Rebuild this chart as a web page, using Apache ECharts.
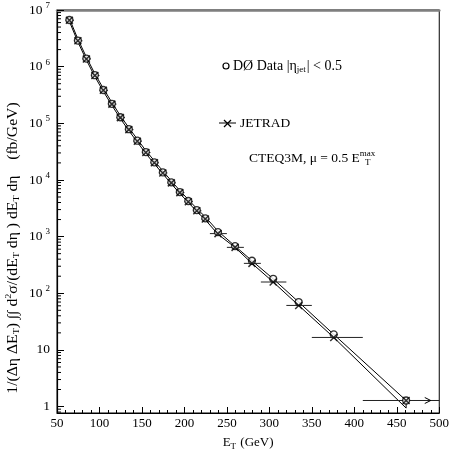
<!DOCTYPE html>
<html><head><meta charset="utf-8">
<script src="https://cdn.jsdelivr.net/npm/echarts@6/dist/echarts.min.js"></script>
<style>html,body{margin:0;padding:0;background:#fff}#c{width:452px;height:456px}</style>
</head><body><div id="c"></div>
<script>
// ET bin centres (GeV) and bin edges
const energies = [64.6, 74.6, 84.6, 94.6, 104.6, 114.6, 124.6, 134.6, 144.6, 154.6, 164.6, 174.6, 184.6, 194.6, 204.6, 214.6, 224.6, 239.5, 259.6, 279.5, 304.5, 334.5, 375.8, 461.0];
const binLow  = [60, 70, 80, 90, 100, 110, 120, 130, 140, 150, 160, 170, 180, 190, 200, 210, 220, 230, 250, 270, 290, 320, 350, 410];
const binHigh = [70, 80, 90, 100, 110, 120, 130, 140, 150, 160, 170, 180, 190, 200, 210, 220, 230, 250, 270, 290, 320, 350, 410, 500];
const arrowTipE = 490;
// D0 data (fb/GeV)
const dataY = [6.66e6, 2.89e6, 1.39e6, 7.06e5, 3.87e5, 2.21e5, 1.28e5, 7.87e4, 4.93e4, 3.11e4, 2.05e4, 1.36e4, 9.08e3, 6.12e3, 4.25e3, 2.94e3, 2.10e3, 1.20e3, 681, 375, 180, 70, 18.8, 1.28];
// JETRAD prediction
const jetradY = [6.60e6, 2.86e6, 1.37e6, 6.98e5, 3.82e5, 2.18e5, 1.26e5, 7.74e4, 4.84e4, 3.05e4, 2.01e4, 1.33e4, 8.88e3, 5.98e3, 4.14e3, 2.86e3, 2.04e3, 1.13e3, 646, 337, 158, 61, 16.6, 1.28];
// band edges
const bandUpper = [7.05e6, 3.06e6, 1.47e6, 7.48e5, 4.10e5, 2.34e5, 1.36e5, 8.34e4, 5.23e4, 3.30e4, 2.17e4, 1.44e4, 9.62e3, 6.49e3, 4.50e3, 3.12e3, 2.23e3, 1.25e3, 681, 375, 180, 70, 18.8, 1.28];
const bandLower = [6.28e6, 2.73e6, 1.31e6, 6.66e5, 3.65e5, 2.08e5, 1.21e5, 7.42e4, 4.65e4, 2.93e4, 1.93e4, 1.28e4, 8.57e3, 5.77e3, 4.01e3, 2.77e3, 1.98e3, 1.10e3, 646, 337, 158, 61, 16.6, 0.94];
// axes
const xMin = 50, xMax = 500, xStep = 50;
const yMin = 0.77, yMax = 1e7;
const yDecades = [1, 10, 100, 1000, 1e4, 1e5, 1e6, 1e7];

const FONT = 'Liberation Serif';
const minorY = [];
[0.1].concat(yDecades).forEach(d => { for (let m = 2; m <= 9; m++) { const v = m * d; if (v > yMin && v < yMax) minorY.push([xMin, v]); } });

const chart = echarts.init(document.getElementById('c'), null, {renderer: 'canvas'});
const last = energies.length - 1;
const crossPath = 'path://M0,0 L10,10 M10,0 L0,10';

const option = {
  animation: false,
  backgroundColor: '#fff',
  grid: {left: 57, right: 11, top: 10, bottom: 43, show: true, borderColor: '#000', borderWidth: 1, backgroundColor: 'transparent'},
  xAxis: [{
    type: 'value', min: xMin, max: xMax, interval: xStep,
    axisLine: {lineStyle: {color: '#000', width: 1.2}},
    axisTick: {inside: true, length: 6, lineStyle: {color: '#000'}},
    minorTick: {show: true, splitNumber: 5, length: 3, lineStyle: {color: '#000'}},
    splitLine: {show: false},
    axisLabel: {color: '#000', fontFamily: FONT, fontSize: 13, margin: 4},
    name: '{b|E}{sub|T}{b| (GeV)}', nameLocation: 'middle', nameGap: 22,
    nameTextStyle: {color: '#000', fontFamily: FONT, fontSize: 13,
      rich: {b: {fontFamily: FONT, fontSize: 13, color: '#000'}, sub: {fontFamily: FONT, fontSize: 9, color: '#000', padding: [7, 1, 0, 0]}}}
  }, {
    type: 'value', position: 'top', min: xMin, max: xMax,
    axisLine: {show: true, lineStyle: {color: '#7f7f7f', width: 2.5}},
    axisTick: {show: false}, axisLabel: {show: false}, splitLine: {show: false}
  }],
  yAxis: [{
    type: 'log', logBase: 10, min: yMin, max: yMax,
    axisLine: {lineStyle: {color: '#000', width: 1.2}},
    axisTick: {inside: true, length: 7, lineStyle: {color: '#000'}},
    splitLine: {show: false},
    axisLabel: {
      color: '#000', fontFamily: FONT, fontSize: 13, margin: 7,
      formatter: v => {
        const e = Math.round(Math.log10(v));
        if (Math.abs(v - Math.pow(10, e)) > 1e-6 * v) return '';
        if (e === 0) return '{b|1}';
        if (e === 1) return '{b|10}';
        return '{b|10}{s|' + e + '}';
      },
      rich: {b: {fontFamily: FONT, fontSize: 13.5, color: '#000'}, s: {fontFamily: FONT, fontSize: 9, color: '#000', padding: [0, 0, 9, 3]}}
    }
  }],
  series: [
    {type: 'line', name: 'bandUpper', data: energies.map((e, i) => [e, bandUpper[i]]), symbol: 'none', lineStyle: {color: '#000', width: 1}, z: 2},
    {type: 'line', name: 'bandLower', data: energies.map((e, i) => [e, bandLower[i]]), symbol: 'none', lineStyle: {color: '#000', width: 1}, z: 2},
    {type: 'custom', name: 'bandEnd', data: [[energies[last], bandLower[last], bandUpper[last]]], z: 2,
      renderItem: (params, api) => {
        const a = api.coord([api.value(0), api.value(1)]);
        const b = api.coord([api.value(0), api.value(2)]);
        return {type: 'line', shape: {x1: a[0], y1: a[1], x2: b[0], y2: b[1]}, style: {stroke: '#000', lineWidth: 1}};
      }},
    {type: 'custom', name: 'bins', z: 3,
      data: energies.map((e, i) => [binLow[i], binHigh[i], jetradY[i], i === last ? 1 : 0]),
      renderItem: (params, api) => {
        const a = api.coord([api.value(0), api.value(2)]);
        const b = api.coord([api.value(1), api.value(2)]);
        const children = [{type: 'line', shape: {x1: a[0], y1: a[1], x2: b[0], y2: b[1]}, style: {stroke: '#222', lineWidth: 1}}];
        if (api.value(3) === 1) {
          const t = api.coord([arrowTipE, api.value(2)]);
          children.push({type: 'polyline', shape: {points: [[t[0] - 6, t[1] - 3], [t[0], t[1]], [t[0] - 6, t[1] + 3]]}, style: {stroke: '#000', fill: null, lineWidth: 1}});
        }
        return {type: 'group', children};
      }},
    {type: 'scatter', name: 'DØ Data', data: energies.map((e, i) => [e, dataY[i]]), symbol: 'circle', symbolSize: 7,
      itemStyle: {color: '#fff', borderColor: '#000', borderWidth: 1.3}, z: 4},
    {type: 'scatter', name: 'JETRAD', data: energies.map((e, i) => [e, jetradY[i]]), symbol: crossPath, symbolSize: 7,
      itemStyle: {color: 'none', borderColor: '#000', borderWidth: 1.5}, z: 5},
    {type: 'custom', name: 'minorY', data: minorY, z: 6, clip: false,
      renderItem: (params, api) => {
        const p = api.coord([api.value(0), api.value(1)]);
        return {type: 'line', shape: {x1: p[0], y1: p[1], x2: p[0] + 4, y2: p[1]}, style: {stroke: '#000', lineWidth: 1}};
      }}
  ],
  graphic: [
    {type: 'circle', shape: {cx: 226, cy: 66, r: 3}, style: {fill: '#fff', stroke: '#000', lineWidth: 1.2}},
    {type: 'text', x: 233, y: 66, style: {text: '{t|DØ Data |η}{sub|jet}{t|| < 0.5}', verticalAlign: 'middle',
      rich: {t: {fontFamily: FONT, fontSize: 14, fill: '#000'}, sub: {fontFamily: FONT, fontSize: 9, fill: '#000', padding: [8, 1, 0, 0]}}}},
    {type: 'line', shape: {x1: 219, y1: 123, x2: 236, y2: 123}, style: {stroke: '#000', lineWidth: 1}},
    {type: 'polyline', shape: {points: [[224, 120], [231, 127]]}, style: {stroke: '#000', lineWidth: 1.2}},
    {type: 'polyline', shape: {points: [[224, 127], [231, 120]]}, style: {stroke: '#000', lineWidth: 1.2}},
    {type: 'text', x: 240, y: 123, style: {text: 'JETRAD', fontFamily: FONT, fontSize: 13.5, fill: '#000', verticalAlign: 'middle'}},
    {type: 'text', x: 249, y: 158, style: {text: '{t|CTEQ3M, μ = 0.5 E}{sup|max}', verticalAlign: 'middle',
      rich: {t: {fontFamily: FONT, fontSize: 13.5, fill: '#000'}, sup: {fontFamily: FONT, fontSize: 9, fill: '#000', padding: [0, 0, 8, 0]}}}},
    {type: 'text', x: 365, y: 163, style: {text: 'T', fontFamily: FONT, fontSize: 9, fill: '#000', verticalAlign: 'middle'}},
    {type: 'text', x: 13, y: 248, rotation: Math.PI / 2, scaleX: 1.12,
      style: {text: '{t|1/(Δη ΔE}{sub|T}{t|) ∫∫ d}{sup|2}{t|σ/(dE}{sub|T}{t| dη ) dE}{sub|T}{t| dη    (fb/GeV)}', align: 'center', verticalAlign: 'middle',
        rich: {t: {fontFamily: FONT, fontSize: 14, fill: '#000'}, sub: {fontFamily: FONT, fontSize: 9, fill: '#000', padding: [8, 0, 0, 0]}, sup: {fontFamily: FONT, fontSize: 9, fill: '#000', padding: [0, 0, 8, 0]}}}}
  ]
};
chart.setOption(option);
</script></body></html>
